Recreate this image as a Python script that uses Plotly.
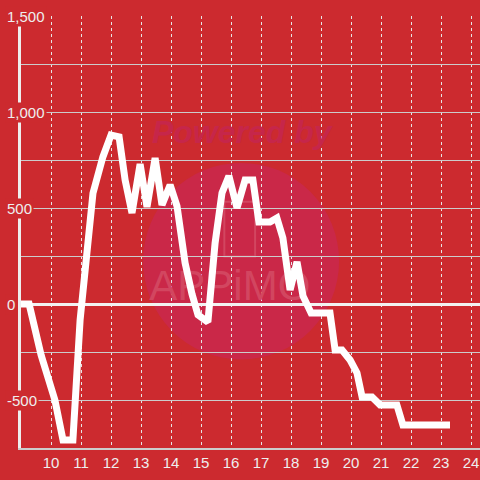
import plotly.graph_objects as go

# ---- data ----
hours = [9.00, 9.27, 9.67, 9.90, 10.13, 10.40, 10.73, 10.97, 11.20, 11.40,
         11.73, 12.00, 12.27, 12.47, 12.70, 12.97, 13.20, 13.47, 13.70, 13.97,
         14.20, 14.47, 14.70, 14.90, 15.23, 15.47, 15.70, 15.93, 16.20, 16.47,
         16.73, 16.93, 17.30, 17.53, 17.73, 17.97, 18.20, 18.40, 18.67, 19.30,
         19.47, 19.70, 19.97, 20.20, 20.37, 20.70, 20.97, 21.53, 21.73, 22.07,
         23.30]
values = [0, 0, -266, -370, -500, -708, -708, -83, 297, 578,
          766, 880, 870, 646, 474, 729, 505, 760, 516, 620,
          510, 214, 52, -57, -94, 318, 578, 667, 500, 646,
          646, 427, 427, 448, 344, 73, 219, 42, -47, -47,
          -240, -240, -292, -359, -484, -484, -526, -526, -630, -630,
          -630]

y_tick_vals = [1500, 1000, 500, 0, -500]
y_tick_text = ["1,500", "1,000", "500", "0", "-500"]
x_tick_vals = list(range(10, 25))
x_tick_text = [str(v) for v in x_tick_vals]

X_RANGE = [9.0, 24.3]
Y_RANGE = [-750, 1500]

BG = "#CC2A2F"
FONT = "Liberation Sans"


def px(fx):
    return X_RANGE[0] + fx * (X_RANGE[1] - X_RANGE[0])


def py(fy):
    return Y_RANGE[0] + fy * (Y_RANGE[1] - Y_RANGE[0])


fig = go.Figure()

# watermark texts (drawn under the data line)
fig.add_trace(go.Scatter(
    x=[px(0.481)], y=[py(0.7245)], mode="text", text=["<b><i>Powered by</i></b>"],
    textfont=dict(family=FONT, size=32, color="#C6264A"),
    hoverinfo="skip", showlegend=False))
fig.add_trace(go.Scatter(
    x=[px(0.455)], y=[py(0.366)], mode="text", text=["APPiMO"],
    textfont=dict(family=FONT, size=42, color="#D24660"),
    hoverinfo="skip", showlegend=False))

fig.add_trace(go.Scatter(
    x=hours, y=values, mode="lines",
    line=dict(color="#FFFFFF", width=7),
    hoverinfo="skip", showlegend=False,
))

# watermark shapes
fig.add_shape(type="circle", xref="paper", yref="paper",
              x0=0.266, x1=0.693, y0=0.205, y1=0.660,
              fillcolor="#CA2848", line=dict(width=0), layer="below")
fig.add_shape(type="rect", xref="paper", yref="paper",
              x0=0.443, x1=0.51, y0=0.443, y1=0.57,
              fillcolor="rgba(0,0,0,0)", line=dict(color="#D24660", width=2),
              layer="below")

# y tick labels sitting over the axis line
for v, t in zip(y_tick_vals, y_tick_text):
    fig.add_annotation(text=t, xref="paper", yref="y", x=0, y=v,
                       xanchor="left", yanchor="middle", xshift=-16,
                       showarrow=False, bgcolor=BG, borderpad=1,
                       font=dict(family=FONT, size=15, color="#EEEEEE"))

fig.update_layout(
    width=480, height=480, autosize=False,
    paper_bgcolor=BG, plot_bgcolor=BG,
    margin=dict(l=21, r=0, t=16, b=32),
    font=dict(family=FONT, size=15, color="#EEEEEE"),
    hovermode=False,
    xaxis=dict(range=X_RANGE, tickvals=x_tick_vals, ticktext=x_tick_text,
               showgrid=True, gridcolor="#E6E6E6", griddash="dot", gridwidth=1,
               showline=True, linecolor="#CCCCCC", linewidth=2,
               zeroline=False, ticks="", tickfont=dict(size=15, color="#EEEEEE")),
    yaxis=dict(range=Y_RANGE, dtick=250, showticklabels=False,
               showgrid=True, gridcolor="#CCCCCC", gridwidth=1,
               zeroline=True, zerolinecolor="#F2F2F2", zerolinewidth=3,
               showline=True, linecolor="#EEEEEE", linewidth=3, ticks=""),
)

fig.write_html("out.html",
               config={"displayModeBar": False},
               post_script="document.body.style.margin='0';"
                           "document.body.style.background='" + BG + "';")
